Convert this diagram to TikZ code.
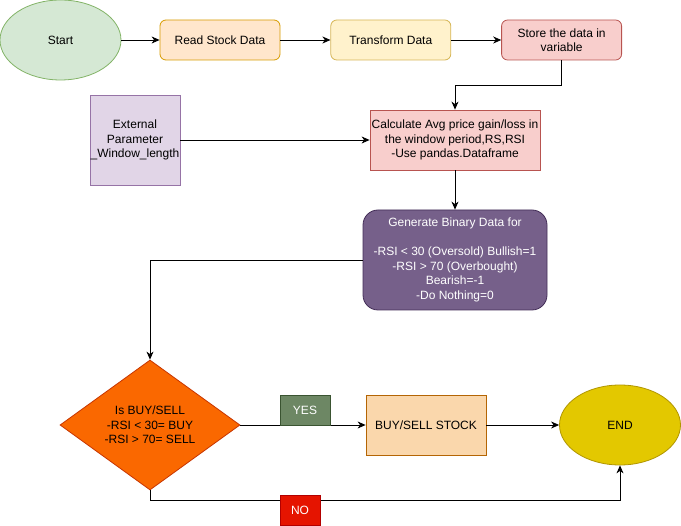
\documentclass[tikz,border=0pt]{standalone}
\usepackage{fontspec}
\setmainfont{Liberation Sans}
\usetikzlibrary{shapes.geometric, arrows.meta, positioning}
\definecolor{startfill}{RGB}{213, 232, 212}
\definecolor{startline}{RGB}{130, 179, 102}
\definecolor{readfill}{RGB}{255, 230, 204}
\definecolor{readline}{RGB}{215, 155, 0}
\definecolor{transfill}{RGB}{255, 242, 204}
\definecolor{transline}{RGB}{214, 182, 86}
\definecolor{storefill}{RGB}{248, 206, 204}
\definecolor{storeline}{RGB}{184, 84, 80}
\definecolor{extfill}{RGB}{225, 213, 231}
\definecolor{extline}{RGB}{150, 115, 166}
\definecolor{genfill}{RGB}{118, 96, 138}
\definecolor{genline}{RGB}{67, 45, 87}
\definecolor{decfill}{RGB}{250, 104, 0}
\definecolor{decline}{RGB}{199, 53, 0}
\definecolor{yesfill}{RGB}{109, 135, 100}
\definecolor{yesline}{RGB}{58, 84, 49}
\definecolor{nofill}{RGB}{229, 20, 0}
\definecolor{noline}{RGB}{178, 0, 0}
\definecolor{buyfill}{RGB}{250, 215, 172}
\definecolor{buyline}{RGB}{180, 101, 4}
\definecolor{endfill}{RGB}{227, 200, 0}
\definecolor{endline}{RGB}{176, 149, 0}
\tikzstyle{stepbox} = [
    rectangle,
    rounded corners=6pt,
    minimum width=120pt,
    minimum height=40pt,
    inner sep=0pt,
    align=center,
    line width=0.8pt
]
\tikzstyle{plainbox} = [
    rectangle,
    inner sep=0pt,
    align=center,
    line width=0.8pt
]
\tikzstyle{terminal} = [
    ellipse,
    minimum width=121pt,
    minimum height=80pt,
    inner sep=0pt,
    line width=0.8pt
]
\tikzstyle{arrow} = [
    -{Stealth[length=8pt, width=7pt, inset=2.5pt]},
    line width=0.8pt,
    color=black
]

\begin{document}
\begin{tikzpicture}[x=1pt, y=1pt, font=\fontsize{12}{14.5}\selectfont]
\useasboundingbox (0,0) rectangle (681,-526);

% Top row
\node[terminal, fill=startfill, draw=startline] (start) at (60.5,-40) {Start};
\node[stepbox, fill=readfill, draw=readline] (read) at (220,-40) {Read Stock Data};
\node[stepbox, fill=transfill, draw=transline, right=50pt of read] (transform) {Transform Data};
\node[stepbox, fill=storefill, draw=storeline, right=50pt of transform] (store) {Store the data in\\variable};

\draw[arrow] (start) -- (read);
\draw[arrow] (read) -- (transform);
\draw[arrow] (transform) -- (store);

% Calculation with external parameter
\node[plainbox, fill=storefill, draw=storeline, minimum width=170pt, minimum height=60pt] (calc) at (455,-140) {Calculate Avg price gain/loss in\\the window period,RS,RSI\\-Use pandas.Dataframe};
\node[plainbox, fill=extfill, draw=extline, minimum width=90pt, minimum height=90pt] (ext) at (135,-140) {External\\Parameter\\\_Window\_length};

\draw[arrow] (store.south) -- ++(0,-25) -| (calc.north);
\draw[arrow] (ext) -- (calc);

% Binary signal
\node[stepbox, rounded corners=15pt, fill=genfill, draw=genline, text=white, minimum width=184pt, minimum height=100pt] (gen) at (455,-260) {Generate Binary Data for\\[14.5pt]-RSI < 30 (Oversold) Bullish=1\\-RSI > 70 (Overbought)\\Bearish=-1\\-Do Nothing=0};

\draw[arrow] (calc) -- (gen);

% Decision
\node[diamond, fill=decfill, draw=decline, line width=0.8pt, minimum width=180pt, minimum height=130pt, inner sep=0pt, align=center, text=black] (decide) at (150,-425) {Is BUY/SELL\\-RSI < 30= BUY\\-RSI > 70= SELL};
\node[plainbox, fill=buyfill, draw=buyline, minimum width=120pt, minimum height=60pt] (buy) at (426,-425) {BUY/SELL STOCK};
\node[terminal, fill=endfill, draw=endline] (end) at (620,-425) {END};

\draw[arrow] (gen.west) -| (decide.north);
\draw[arrow] (decide) -- (buy);
\draw[arrow] (buy) -- (end);
\draw[arrow] (decide.south) -- ++(0,-10) -| (end.south);

% Labels
\node[plainbox, fill=yesfill, draw=yesline, text=white, minimum width=50pt, minimum height=30pt] (yes) at (305,-410) {YES};
\node[plainbox, fill=nofill, draw=noline, text=white, minimum width=40pt, minimum height=30pt] (no) at (300,-510.5) {NO};

\end{tikzpicture}
\end{document}
